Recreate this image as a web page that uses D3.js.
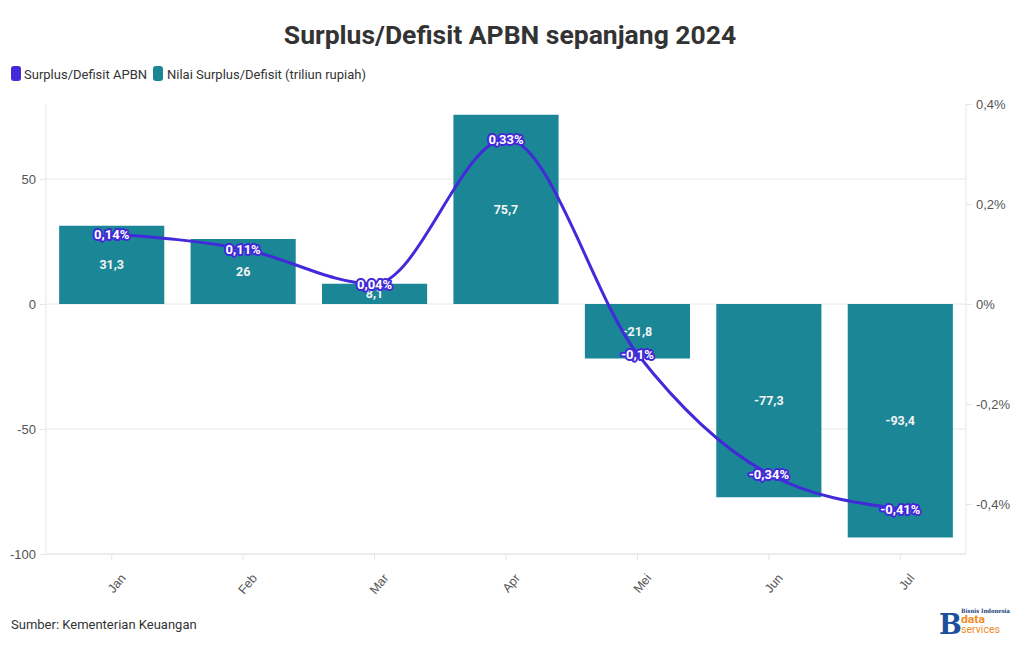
<!DOCTYPE html>
<html><head><meta charset="utf-8">
<script src="https://cdn.jsdelivr.net/npm/d3@7"></script>
<style>
body{margin:0;background:#fff;}
svg{display:block;font-family:"Source Sans Pro","Roboto","Noto Sans",sans-serif;}
</style></head>
<body><svg id="chart" width="1020" height="650"></svg>
<script>
const months = ["Jan","Feb","Mar","Apr","Mei","Jun","Jul"];
const barValues = [31.3, 26, 8.1, 75.7, -21.8, -77.3, -93.4];
const lineValues = [0.14, 0.11, 0.04, 0.33, -0.1, -0.34, -0.41];
const leftTicks = [-100, -50, 0, 50];
const rightTicks = [-0.4, -0.2, 0, 0.2, 0.4];
const title = "Surplus/Defisit APBN sepanjang 2024";
const seriesNames = ["Surplus/Defisit APBN", "Nilai Surplus/Defisit (triliun rupiah)"];
const source = "Sumber: Kementerian Keuangan";

const barColor = "#1b8796", lineColor = "#4229d9";
const svg = d3.select("#chart");
const m = {l:46, r:966, t:104, b:554};
const fmt = v => String(v).replace(".", ",");

const x = d3.scaleBand().domain(months).range([m.l, m.r]).paddingInner(0.2).paddingOuter(0.1);
const yL = d3.scaleLinear().domain([-100, 80]).range([m.b, m.t]);
const yR = d3.scaleLinear().domain([-0.5, 0.4]).range([m.b, m.t]);

// title
svg.append("text").attr("x", 510).attr("y", 44).attr("text-anchor","middle")
  .attr("font-size", 26.5).attr("font-weight", 700).attr("fill","#333").text(title);

// legend
const lg = svg.append("g");
lg.append("rect").attr("x",11).attr("y",66).attr("width",10).attr("height",15).attr("rx",3).attr("fill",lineColor);
lg.append("text").attr("x",24).attr("y",78.5).attr("font-size",13).attr("fill","#333").text(seriesNames[0]);
lg.append("rect").attr("x",153).attr("y",66).attr("width",10).attr("height",15).attr("rx",3).attr("fill",barColor);
lg.append("text").attr("x",167).attr("y",78.5).attr("font-size",13).attr("fill","#333").text(seriesNames[1]);

// gridlines
svg.append("g").selectAll("line").data(leftTicks).join("line")
  .attr("x1", m.l).attr("x2", m.r).attr("y1", d=>yL(d)).attr("y2", d=>yL(d))
  .attr("stroke", "#e8e8e8");

// axes
const axL = svg.append("g").attr("transform",`translate(${m.l},0)`)
  .call(d3.axisLeft(yL).tickValues(leftTicks).tickSize(6).tickPadding(4).tickFormat(d=>d));
const axR = svg.append("g").attr("transform",`translate(${m.r},0)`)
  .call(d3.axisRight(yR).tickValues(rightTicks).tickSize(6).tickPadding(4).tickFormat(d=>fmt(d)+"%"));
const axB = svg.append("g").attr("transform",`translate(0,${m.b})`)
  .call(d3.axisBottom(x).tickSize(6).tickPadding(4));
[axL, axR, axB].forEach(a=>{
  a.select(".domain").attr("stroke","#e6e6e6");
  a.selectAll(".tick line").attr("stroke","#e6e6e6");
  a.selectAll("text").attr("fill","#555").attr("font-size",13).attr("font-family","inherit");
});
axL.select(".domain").attr("d", `M0,${m.t}V${m.b}`);
axR.select(".domain").attr("d", `M0,${m.t}V${m.b}`);
axB.select(".domain").attr("d", `M${m.l},0H${m.r}`);
axB.selectAll(".tick text").attr("text-anchor","end").attr("dy",null)
  .attr("transform","translate(7,18) rotate(-50)").attr("font-size",12.5);

// bars
svg.append("g").selectAll("rect").data(months).join("rect")
  .attr("x", d=>x(d)).attr("width", x.bandwidth())
  .attr("y", (d,i)=>yL(Math.max(0,barValues[i])))
  .attr("height", (d,i)=>Math.abs(yL(barValues[i])-yL(0)))
  .attr("fill", barColor);

// bar labels
svg.append("g").selectAll("text").data(months).join("text")
  .attr("x", d=>x(d)+x.bandwidth()/2)
  .attr("y", (d,i)=>(yL(barValues[i])+yL(0))/2)
  .attr("dy","0.35em").attr("text-anchor","middle")
  .attr("font-size",12.5).attr("font-weight",700).attr("fill","#f4f4f4")
  .text((d,i)=>fmt(barValues[i]));

// line
const line = d3.line().x((d,i)=>x(months[i])+x.bandwidth()/2).y(d=>yR(d)).curve(d3.curveMonotoneX);
svg.append("path").datum(lineValues).attr("d", line).attr("fill","none")
  .attr("stroke", lineColor).attr("stroke-width", 3);

// line labels
svg.append("g").selectAll("text").data(lineValues).join("text")
  .attr("x", (d,i)=>x(months[i])+x.bandwidth()/2)
  .attr("y", d=>yR(d)).attr("dy","0.35em").attr("text-anchor","middle")
  .attr("font-size",13).attr("font-weight",700).attr("fill","#fff")
  .attr("stroke", lineColor).attr("stroke-width",4).attr("stroke-linejoin","round")
  .attr("paint-order","stroke")
  .text(d=>fmt(d)+"%");

// source
svg.append("text").attr("x",11).attr("y",629).attr("font-size",13).attr("fill","#333").text(source);

// logo
const logo = svg.append("g");
logo.append("text").attr("x",939).attr("y",634).attr("font-size",27).attr("font-weight",700)
  .attr("font-family","DejaVu Serif, serif").attr("fill","#1d4f9c").text("B");
logo.append("text").attr("x",961).attr("y",613).attr("font-size",6).attr("font-weight",700)
  .attr("textLength",49).attr("lengthAdjust","spacingAndGlyphs")
  .attr("font-family","DejaVu Serif, serif").attr("fill","#1d3f7a").text("Bisnis Indonesia");
logo.append("text").attr("x",961).attr("y",623).attr("font-size",11).attr("font-weight",700)
  .attr("textLength",24).attr("lengthAdjust","spacingAndGlyphs").attr("fill","#f08a24").text("data");
logo.append("text").attr("x",961).attr("y",633).attr("font-size",11)
  .attr("textLength",39).attr("lengthAdjust","spacingAndGlyphs").attr("fill","#f08a24").text("services");
</script></body></html>
